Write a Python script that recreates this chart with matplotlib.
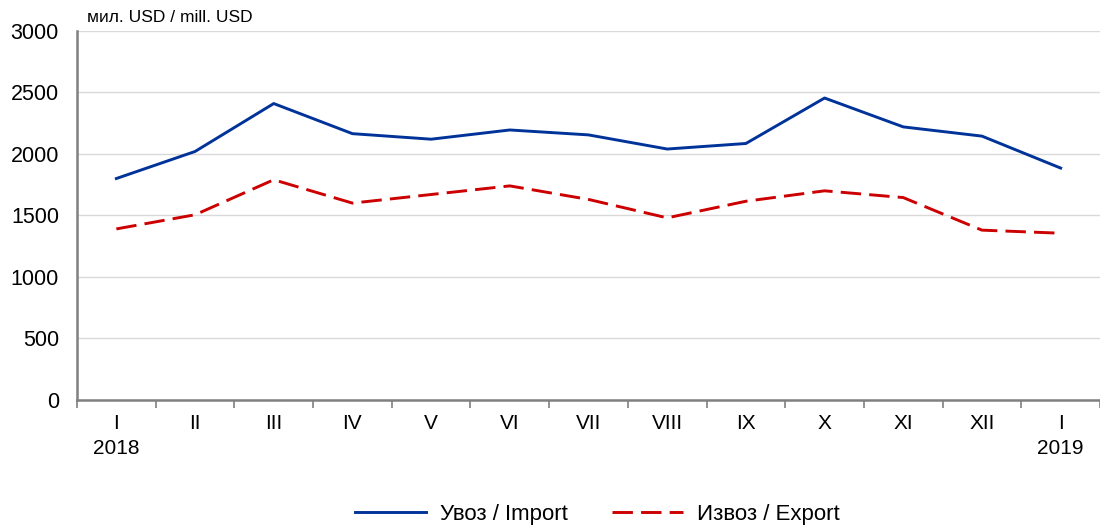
import numpy as np
import matplotlib as mpl
from matplotlib import pyplot as plt

plt.rcParams['font.family'] = ['Liberation Sans', 'DejaVu Sans']

months = ['I\n2018', 'II', 'III', 'IV', 'V', 'VI', 'VII', 'VIII', 'IX', 'X', 'XI', 'XII', 'I\n2019']
imports = [1800, 2020, 2410, 2165, 2120, 2195, 2155, 2040, 2085, 2455, 2220, 2145, 1885]
exports = [1390, 1505, 1790, 1600, 1670, 1740, 1630, 1480, 1615, 1700, 1645, 1380, 1355]

fig = plt.figure(figsize=(11, 5.26), dpi=100)
ax = fig.add_axes([0.07, 0.24, 0.93, 0.701])

x = np.arange(len(months))
ax.plot(x, imports, color='#003399', linewidth=2.1, label='Увоз / Import')
ax.plot(x, exports, color='#cc0000', linewidth=2.1, linestyle=(0, (7, 2.8)), label='Извоз / Export')

ax.set_xlim(-0.5, len(months) - 0.5)
ax.set_ylim(0, 3000)
ax.set_yticks(range(0, 3001, 500))
ax.yaxis.grid(True, color='#d9d9d9', linewidth=1)
ax.set_axisbelow(True)
ax.tick_params(axis='y', length=0, labelsize=15.5, pad=13)

# tick marks between categories, labels centred
ax.set_xticks(np.arange(-0.5, len(months)), minor=False)
ax.set_xticklabels([])
ax.set_xticks(x, minor=True)
ax.set_xticklabels(months, minor=True, fontsize=15, linespacing=1.45, va='top')
ax.tick_params(axis='x', which='major', length=6, color='#808080', width=1.2)
ax.tick_params(axis='x', which='minor', length=0, pad=10)

for s in ['top', 'right']:
    ax.spines[s].set_visible(False)
for s in ['left', 'bottom']:
    ax.spines[s].set_color('#808080')
    ax.spines[s].set_linewidth(1.8)

fig.text(0.079, 0.953, 'мил. USD / mill. USD', fontsize=12.5, va='bottom')

fig.legend(loc='lower center', bbox_to_anchor=(0.543, -0.036), ncol=2, frameon=False,
           fontsize=16, handlelength=3.2, columnspacing=2.0, handletextpad=0.6)

fig.savefig('out.png', dpi=100)
